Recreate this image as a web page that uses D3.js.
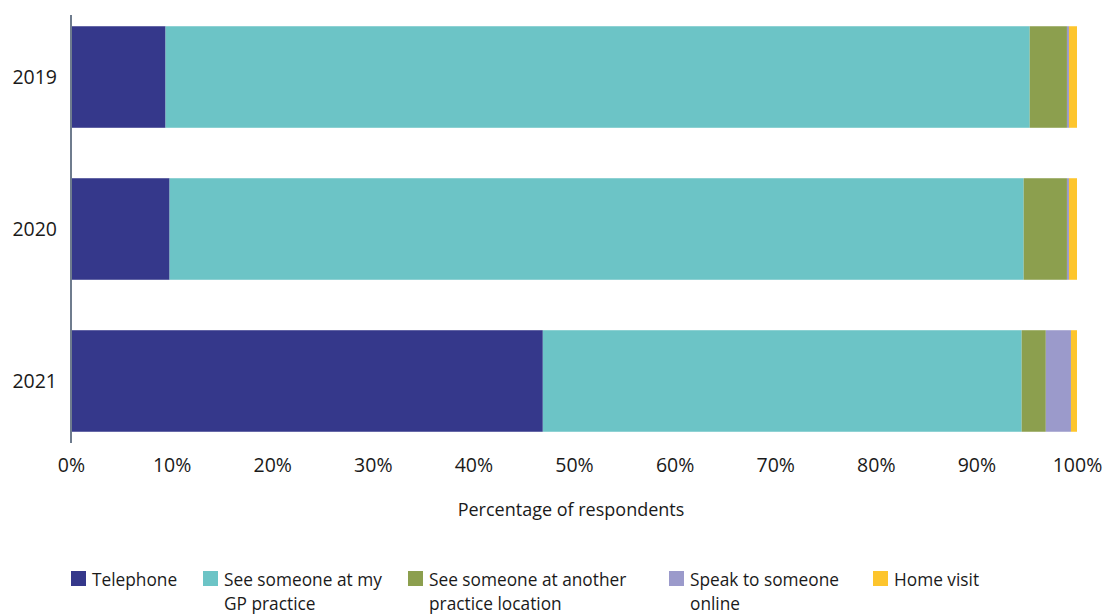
<!DOCTYPE html>
<html>
<head>
<meta charset="utf-8">
<script src="https://cdn.jsdelivr.net/npm/d3@7"></script>
<style>
  body { margin: 0; background: #fff; }
  svg { display: block; font-family: "Open Sans", "Noto Sans", sans-serif; }
</style>
</head>
<body>
<svg id="chart" width="1109" height="614"></svg>
<script>
// Preferred way of contact, by survey year (percentage of respondents)
const years = ["2019", "2020", "2021"];
const seriesNames = [
  "Telephone",
  "See someone at my GP practice",
  "See someone at another practice location",
  "Speak to someone online",
  "Home visit"
];
const legendLines = [
  ["Telephone"],
  ["See someone at my", "GP practice"],
  ["See someone at another", "practice location"],
  ["Speak to someone", "online"],
  ["Home visit"]
];
const telephone = [9.4, 9.8, 46.9];
const seeAtMyPractice = [85.9, 84.9, 47.6];
const seeAtAnotherLocation = [3.7, 4.3, 2.4];
const speakOnline = [0.2, 0.2, 2.5];
const homeVisit = [0.8, 0.8, 0.6];
const tickValues = [0, 10, 20, 30, 40, 50, 60, 70, 80, 90, 100];
const colors = ["#35388b", "#6cc4c6", "#8c9f4e", "#9b9acb", "#fdc52d"];

const seriesValues = [telephone, seeAtMyPractice, seeAtAnotherLocation, speakOnline, homeVisit];
const rows = years.map((y, i) => {
  const r = { year: y };
  seriesNames.forEach((s, k) => { r[s] = seriesValues[k][i]; });
  return r;
});

const svg = d3.select("#chart");

const x = d3.scaleLinear().domain([0, 100]).range([71, 1077]);
const y = d3.scaleBand().domain(years).range([15, 443]).paddingInner(0.332).paddingOuter(0.074);

const stacked = d3.stack().keys(seriesNames)(rows);

svg.append("g")
  .selectAll("g")
  .data(stacked)
  .join("g")
  .attr("fill", (d, i) => colors[i])
  .selectAll("rect")
  .data(d => d)
  .join("rect")
  .attr("x", d => x(d[0]))
  .attr("y", d => y(d.data.year))
  .attr("width", d => x(d[1]) - x(d[0]))
  .attr("height", y.bandwidth());

// vertical category axis
svg.append("line")
  .attr("x1", x(0)).attr("x2", x(0))
  .attr("y1", 15).attr("y2", 443)
  .attr("stroke", "#6f7c8e").attr("stroke-width", 2);

// year labels
svg.append("g")
  .selectAll("text")
  .data(years)
  .join("text")
  .attr("x", 57)
  .attr("y", d => y(d) + y.bandwidth() / 2)
  .attr("dy", "0.35em")
  .attr("text-anchor", "end")
  .attr("font-size", 19.5)
  .attr("fill", "#1a1a1a")
  .text(d => d);

// percentage axis (labels only)
const xAxis = d3.axisBottom(x).tickValues(tickValues).tickFormat(d => d + "%").tickSize(0).tickPadding(0);
const gx = svg.append("g").attr("transform", "translate(0,453)").call(xAxis);
gx.select(".domain").remove();
gx.selectAll("text").attr("font-size", 19.5).attr("fill", "#1a1a1a").attr("dy", "0.95em")
  .attr("font-family", "'Open Sans', 'Noto Sans', sans-serif");

svg.append("text")
  .attr("x", 571).attr("y", 516)
  .attr("text-anchor", "middle")
  .attr("font-size", 18)
  .attr("fill", "#1a1a1a")
  .text("Percentage of respondents");

// legend
const legendX = [71, 203, 408, 669, 873];
const lg = svg.append("g").selectAll("g")
  .data(seriesNames)
  .join("g")
  .attr("transform", (d, i) => `translate(${legendX[i]},571)`);
lg.append("rect").attr("width", 15).attr("height", 15).attr("fill", (d, i) => colors[i]);
lg.append("text")
  .attr("x", 21).attr("y", 15)
  .attr("font-size", 17.3)
  .attr("fill", "#1a1a1a")
  .selectAll("tspan")
  .data((d, i) => legendLines[i])
  .join("tspan")
  .attr("x", 21)
  .attr("dy", (d, j) => j === 0 ? 0 : 24)
  .text(d => d);
</script>
</body>
</html>
